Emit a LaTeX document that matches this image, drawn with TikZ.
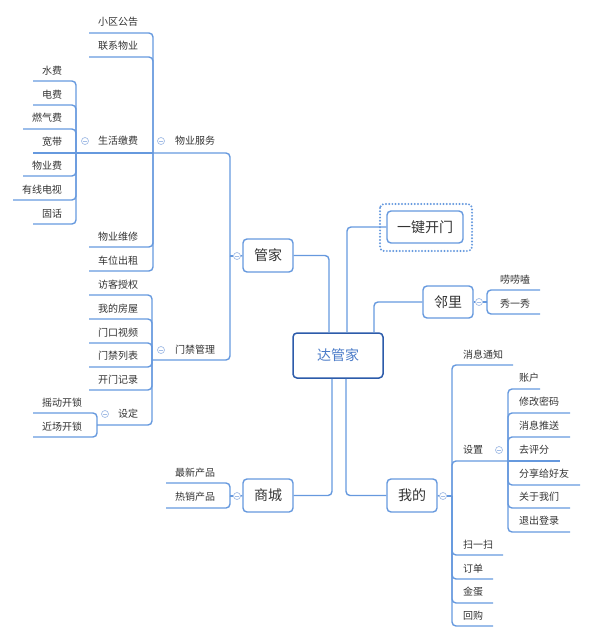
\documentclass[tikz,border=0pt]{standalone}
\usepackage{fontspec}
\setmainfont{Noto Sans CJK SC}
\definecolor{lineblue}{HTML}{6699DE}
\definecolor{foldblue}{HTML}{A3BDE6}
\definecolor{darkblue}{HTML}{2C5BAA}
\definecolor{centertext}{HTML}{4A7BC8}
\definecolor{txt}{HTML}{333333}
\tikzset{
  conn/.style={draw=lineblue, line width=1.4pt, rounded corners=4pt},
  leaf/.style={text=txt, font=\fontsize{10}{12}\selectfont, inner sep=0pt},
  topic/.style={draw=lineblue, line width=1.4pt, rounded corners=4pt, fill=white,
     text=txt, font=\fontsize{14}{16}\selectfont, minimum width=50pt, minimum height=33pt, inner sep=0pt},
  fold/.style={circle, draw=foldblue, fill=white, line width=0.7pt, minimum size=7pt, inner sep=0pt,
     path picture={\draw[foldblue, line width=0.6pt] ([xshift=-1.8pt]path picture bounding box.center) -- ([xshift=1.8pt]path picture bounding box.center);}}
}
\begin{document}
\begin{tikzpicture}[x=1pt,y=-1pt]
\useasboundingbox (0,0) rectangle (594,640);

% ---------- central and main topics ----------
\node[topic, draw=darkblue, line width=1.5pt, text=centertext, minimum width=90pt, minimum height=45pt] (c) at (338,355.5) {达管家};
\node[topic] (gj) at (268,255.5) {管家};
\node[topic, minimum width=76pt, minimum height=32pt] (kdm) at (425,227) {一键开门};
\draw[lineblue, line width=2.2pt, line cap=round, dash pattern=on 0pt off 3.2pt, rounded corners=4pt]
  (380,204) rectangle (472,251);
\node[topic, minimum height=32pt] (lj) at (448,302) {邻里};
\node[topic] (sc) at (268,495.5) {商城};
\node[topic] (wd) at (412,495.5) {我的};

\draw[conn] ([xshift=-9pt]c.north) |- (gj.east);
\draw[conn] ([xshift=9pt]c.north) |- (kdm.west);
\draw[conn] ([xshift=36pt]c.north) |- (lj.west);
\draw[conn] ([xshift=-6pt]c.south) |- (sc.east);
\draw[conn] ([xshift=8pt]c.south) |- (wd.west);

% ---------- 管家 ----------
\node[fold] (fgj) at (237,256) {};
\coordinate (gjb) at (230,256);
\draw[conn] (gj.west) -- (fgj.east);
\draw[conn] (fgj.west) -- (gjb);

\node[leaf] (wyfw) at (195,141) {物业服务};
\node[fold] (fwyfw) at (161,141) {};
\coordinate (wyfwb) at (153,153);
\draw[conn] (gjb) |- (wyfwb);

\node[leaf] (xqgg) at (118,22) {小区公告};
\node[leaf] (lxwy) at (118,46) {联系物业};
\node[leaf] (shjf) at (118,141) {生活缴费};
\node[leaf] (wywx) at (118,237) {物业维修};
\node[leaf] (cwcz) at (118,261) {车位出租};
\draw[conn] (wyfwb) |- (89,33);
\draw[conn] (wyfwb) |- (89,57);
\draw[conn] (wyfwb) |- (89,247);
\draw[conn] (wyfwb) |- (89,271);

\node[fold] (fshjf) at (85,141) {};
\coordinate (shjfb) at (76,153);
\draw[conn] (wyfwb) -- (shjfb);
\node[leaf] (sf) at (52,71) {水费};
\node[leaf] (df) at (52,95) {电费};
\node[leaf] (rqf) at (47,118) {燃气费};
\node[leaf] (kd) at (52,142) {宽带};
\node[leaf] (wyf) at (47,166) {物业费};
\node[leaf] (yxds) at (42,190) {有线电视};
\node[leaf] (gh) at (52,214) {固话};
\draw[conn] (shjfb) |- (33,81);
\draw[conn] (shjfb) |- (33,105);
\draw[conn] (shjfb) |- (23,129);
\draw[conn] (shjfb) -- (33,153);
\draw[conn] (shjfb) |- (23,176);
\draw[conn] (shjfb) |- (13,200);
\draw[conn] (shjfb) |- (33,224);

\node[leaf] (mjgl) at (195,350) {门禁管理};
\node[fold] (fmjgl) at (161,350) {};
\coordinate (mjglb) at (152,360);
\draw[conn] (gjb) |- (mjglb);
\node[leaf] (fksq) at (118,285) {访客授权};
\node[leaf] (wdfw) at (118,309) {我的房屋};
\node[leaf] (mksp) at (118,333) {门口视频};
\node[leaf] (mjlb) at (118,356) {门禁列表};
\node[leaf] (kmjl) at (118,380) {开门记录};
\draw[conn] (mjglb) |- (89,295);
\draw[conn] (mjglb) |- (89,319);
\draw[conn] (mjglb) |- (89,343);
\draw[conn] (mjglb) |- (89,367);
\draw[conn] (mjglb) |- (89,390);

\node[leaf] (sd) at (128,414) {设定};
\node[fold] (fsd) at (105,414) {};
\coordinate (sdb) at (97,425);
\draw[conn] (mjglb) |- (sdb);
\node[leaf] (ydks) at (62,403) {摇动开锁};
\node[leaf] (jcks) at (62,427) {近场开锁};
\draw[conn] (sdb) |- (33,413);
\draw[conn] (sdb) |- (33,437);

% ---------- 商城 ----------
\node[fold] (fsc) at (237,496) {};
\coordinate (scb) at (230,496);
\draw[conn] (sc.west) -- (fsc.east);
\draw[conn] (fsc.west) -- (scb);
\node[leaf] (zxcp) at (195,473) {最新产品};
\node[leaf] (rxcp) at (195,497) {热销产品};
\draw[conn] (scb) |- (166,483);
\draw[conn] (scb) |- (166,508);

% ---------- 邻里 ----------
\node[fold] (flj) at (479,302) {};
\coordinate (ljb) at (487,302);
\draw[conn] (lj.east) -- (flj.west);
\draw[conn] (flj.east) -- (ljb);
\node[leaf] (llk) at (515,280) {唠唠嗑};
\node[leaf] (xyx) at (515,304) {秀一秀};
\draw[conn] (ljb) |- (540,290);
\draw[conn] (ljb) |- (540,314);

% ---------- 我的 ----------
\node[fold] (fwd) at (443,496) {};
\coordinate (wdb) at (452,496);
\draw[conn] (wd.east) -- (fwd.west);
\draw[conn] (fwd.east) -- (wdb);
\node[leaf] (xxtz) at (483,355) {消息通知};
\node[leaf] (sz) at (473,450) {设置};
\node[leaf] (sys) at (478,545) {扫一扫};
\node[leaf] (dd) at (473,569) {订单};
\node[leaf] (jd) at (473,592) {金蛋};
\node[leaf] (hg) at (473,616) {回购};
\draw[conn] (wdb) |- (513,365);
\draw[conn] (wdb) |- (503,555);
\draw[conn] (wdb) |- (493,579);
\draw[conn] (wdb) |- (493,603);
\draw[conn] (wdb) |- (493,626);

\node[fold] (fsz) at (499,450) {};
\coordinate (szb) at (508,461);
\draw[conn] (wdb) |- (szb);
\node[leaf] (zh) at (529,378) {账户};
\node[leaf] (xgmm) at (539,402) {修改密码};
\node[leaf] (xxts) at (539,426) {消息推送};
\node[leaf] (qpf) at (534,450) {去评分};
\node[leaf] (fxghy) at (544,474) {分享给好友};
\node[leaf] (gywm) at (539,497) {关于我们};
\node[leaf] (tcdl) at (539,521) {退出登录};
\draw[conn] (szb) |- (540,389);
\draw[conn] (szb) |- (570,413);
\draw[conn] (szb) |- (570,437);
\draw[conn] (szb) -- (560,461);
\draw[conn] (szb) |- (580,485);
\draw[conn] (szb) |- (570,508);
\draw[conn] (szb) |- (570,532);
\end{tikzpicture}
\end{document}
